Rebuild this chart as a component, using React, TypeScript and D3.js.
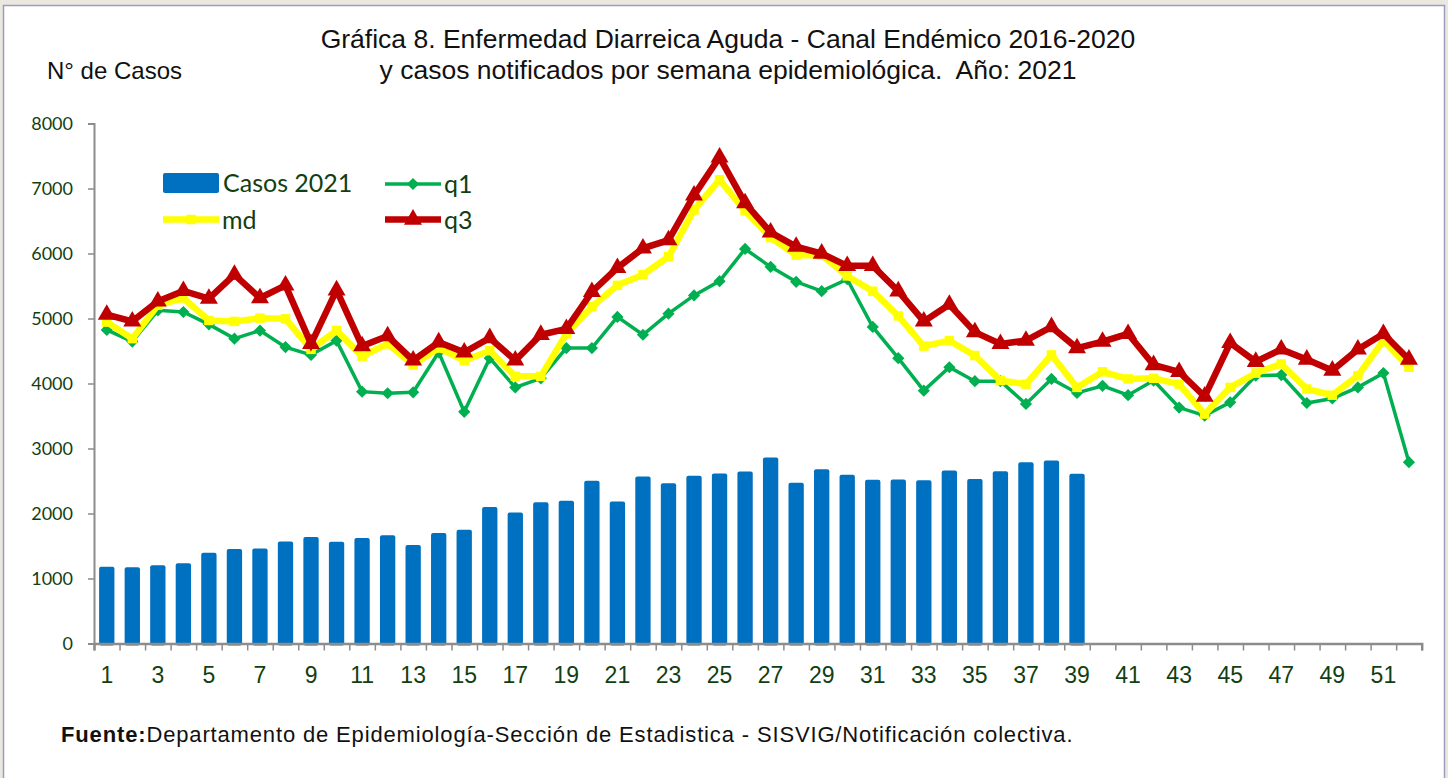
import React, { useEffect, useRef } from "react";
import * as d3 from "d3";

// semanas epidemiologicas
const weeks = d3.range(1, 53);
const yTicks = [0, 1000, 2000, 3000, 4000, 5000, 6000, 7000, 8000];
const xLabels = weeks.filter((w) => w % 2 === 1);

// casos notificados 2021 (hasta semana 39)
const casos2021 = [
  1180, 1175, 1205, 1235, 1395, 1455, 1460, 1570, 1640, 1565, 1625, 1665, 1515,
  1700, 1750, 2100, 2015, 2175, 2195, 2505, 2185, 2570, 2465, 2580, 2615, 2645,
  2860, 2475, 2680, 2595, 2520, 2525, 2510, 2660, 2530, 2650, 2790, 2815, 2610,
];

// canal endemico 2016-2020
const q1 = [
  4825, 4645, 5125, 5100, 4910, 4690, 4815, 4560, 4440, 4660, 3875, 3850, 3865,
  4480, 3565, 4390, 3940, 4080, 4545, 4545, 5025, 4750, 5075, 5355, 5575, 6070,
  5795, 5565, 5420, 5605, 4870, 4390, 3890, 4250, 4035, 4035, 3685, 4070, 3855,
  3965, 3820, 4045, 3630, 3505, 3710, 4120, 4130, 3700, 3770, 3940, 4160, 2790,
];
const md = [
  4945, 4690, 5205, 5315, 4970, 4955, 5005, 4995, 4525, 4815, 4420, 4610, 4285,
  4545, 4355, 4505, 4110, 4110, 4765, 5180, 5510, 5675, 5950, 6670, 7135, 6655,
  6245, 5975, 5975, 5655, 5420, 5040, 4575, 4660, 4430, 4045, 3990, 4440, 3940,
  4180, 4070, 4080, 3990, 3530, 3940, 4160, 4300, 3915, 3820, 4120, 4660, 4250,
];
const q3 = [
  5060, 4955, 5265, 5425, 5305, 5675, 5315, 5510, 4610, 5435, 4575, 4730, 4355,
  4635, 4480, 4700, 4355, 4750, 4840, 5410, 5780, 6080, 6205, 6895, 7480, 6775,
  6325, 6105, 6000, 5810, 5810, 5420, 4955, 5215, 4790, 4610, 4660, 4870, 4545,
  4645, 4765, 4285, 4180, 3800, 4625, 4335, 4525, 4370, 4200, 4525, 4765, 4370,
];

const W = 1448;
const H = 778;
const textGreen = "#123f12";
const axisGray = "#8c8c8c";
const arial = "'Liberation Sans', Arial, sans-serif";
const calibri = "Lato, 'Open Sans', sans-serif";

export default function App() {
  const ref = useRef<SVGSVGElement>(null);

  useEffect(() => {
    const svg = d3.select(ref.current);
    svg.selectAll("*").remove();

    const left = 94;
    const right = 1421.7;
    const top = 123.5;
    const bottom = 643.5;

    const x = d3.scaleBand<number>().domain(weeks).range([left, right]).paddingInner(0.4).paddingOuter(0.2);
    const xEdge = d3.scaleLinear().domain([0, 52]).range([left, right]); // limites entre semanas
    const y = d3.scaleLinear().domain([0, 8000]).range([bottom, top]);
    const cx = (w: number) => (x(w) as number) + x.bandwidth() / 2;

    // fondo y marco
    svg.append("rect").attr("width", W).attr("height", H).attr("fill", "#ebe8df");
    svg.append("rect").attr("x", 3.5).attr("y", 5.5).attr("width", 1441).attr("height", 790)
      .attr("fill", "#fff").attr("stroke", "#9a9dbf").attr("stroke-width", 1.5);

    // titulos
    const title = svg.append("text").attr("text-anchor", "middle").attr("font-family", arial)
      .attr("font-size", 26.5).attr("fill", "#111");
    title.append("tspan").attr("x", 728).attr("y", 48).text("Gráfica 8. Enfermedad Diarreica Aguda - Canal Endémico 2016-2020");
    title.append("tspan").attr("x", 728).attr("y", 79).attr("xml:space", "preserve")
      .text("y casos notificados por semana epidemiológica.  Año: 2021");
    svg.append("text").attr("x", 47).attr("y", 79).attr("font-family", arial).attr("font-size", 24)
      .attr("fill", "#111").text("N° de Casos");

    // eje y
    const gy = svg.append("g").attr("transform", `translate(${left},0)`)
      .call(d3.axisLeft(y).tickValues(yTicks).tickSize(6).tickPadding(15).tickFormat(d3.format("d")));
    gy.select(".domain").attr("stroke", axisGray).attr("stroke-width", 2);
    gy.selectAll(".tick line").attr("stroke", axisGray).attr("stroke-width", 1.5);
    gy.selectAll(".tick text").attr("font-family", calibri).attr("font-size", 18).attr("fill", textGreen);

    // barras
    svg.append("g").selectAll("rect").data(casos2021).join("rect")
      .attr("x", (d, i) => x(weeks[i]) as number)
      .attr("y", (d) => y(d))
      .attr("width", x.bandwidth())
      .attr("height", (d) => bottom + 2 - y(d))
      .attr("rx", 2)
      .attr("fill", "#0070c0");

    // eje x
    const gx = svg.append("g").attr("transform", `translate(0,${bottom})`)
      .call(d3.axisBottom(xEdge).tickValues(d3.range(0, 53)).tickSize(7).tickFormat(() => ""));
    gx.select(".domain").attr("stroke", axisGray).attr("stroke-width", 2.5);
    gx.selectAll(".tick line").attr("stroke", axisGray).attr("stroke-width", 1.5);
    const gxl = svg.append("g").attr("transform", `translate(0,${bottom})`)
      .call(d3.axisBottom(x).tickValues(xLabels).tickSize(0).tickPadding(23.5));
    gxl.select(".domain").remove();
    gxl.selectAll(".tick text").attr("font-family", arial).attr("font-size", 23).attr("fill", textGreen);

    // lineas del canal endemico
    const line = d3.line<number>().x((d, i) => cx(weeks[i])).y((d) => y(d));
    const diamond = d3.symbol().type(d3.symbolDiamond2).size(95);
    const square = d3.symbol().type(d3.symbolSquare).size(90);
    const triangle = d3.symbol().type(d3.symbolTriangle).size(140);

    const series = [
      { data: q1, color: "#00b050", width: 3.5, sym: diamond },
      { data: md, color: "#ffff00", width: 6.5, sym: square },
      { data: q3, color: "#c00000", width: 6.5, sym: triangle },
    ];

    series.forEach((s) => {
      svg.append("path").datum(s.data).attr("d", line).attr("fill", "none")
        .attr("stroke", s.color).attr("stroke-width", s.width).attr("stroke-linejoin", "miter");
      svg.append("g").selectAll("path").data(s.data).join("path")
        .attr("d", s.sym as any)
        .attr("transform", (d, i) => `translate(${cx(weeks[i])},${y(d)})`)
        .attr("fill", s.color);
    });

    // leyenda
    const lg = svg.append("g").attr("font-family", calibri).attr("font-size", 25).attr("fill", textGreen);
    lg.append("rect").attr("x", 163).attr("y", 173).attr("width", 56).attr("height", 20).attr("rx", 2).attr("fill", "#0070c0");
    lg.append("text").attr("x", 223).attr("y", 192).text("Casos 2021");
    const legendLines = [
      { label: "q1", color: "#00b050", width: 3.5, sym: diamond, lx: 385, ly: 184 },
      { label: "md", color: "#ffff00", width: 6.5, sym: square, lx: 163, ly: 219.5 },
      { label: "q3", color: "#c00000", width: 6.5, sym: triangle, lx: 385, ly: 219.5 },
    ];
    legendLines.forEach((l) => {
      lg.append("line").attr("x1", l.lx).attr("x2", l.lx + 56).attr("y1", l.ly).attr("y2", l.ly)
        .attr("stroke", l.color).attr("stroke-width", l.width);
      lg.append("path").attr("d", l.sym as any).attr("transform", `translate(${l.lx + 28},${l.ly})`).attr("fill", l.color);
      lg.append("text").attr("x", l.lx + 59).attr("y", l.ly + 9).text(l.label);
    });

    // fuente
    const src = svg.append("text").attr("x", 61).attr("y", 742).attr("font-family", arial)
      .attr("font-size", 22).attr("letter-spacing", 0.85).attr("fill", "#111");
    src.append("tspan").attr("font-weight", "bold").text("Fuente:");
    src.append("tspan").text("Departamento de Epidemiología-Sección de Estadistica - SISVIG/Notificación colectiva.");
  }, []);

  return (
    <svg
      ref={ref}
      width={W}
      height={H}
      style={{ position: "absolute", top: 0, left: 0, display: "block" }}
    />
  );
}
